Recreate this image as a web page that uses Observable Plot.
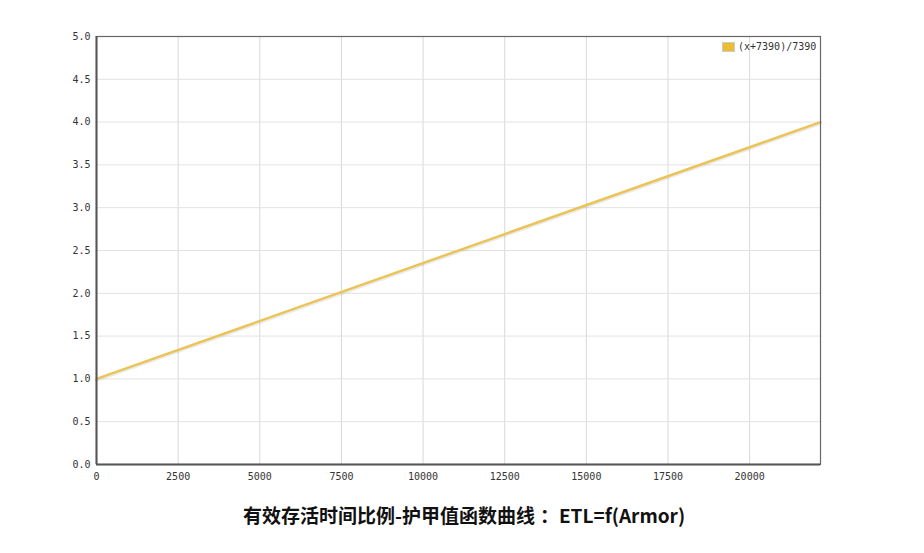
<!DOCTYPE html>
<html>
<head>
<meta charset="utf-8">
<script src="https://cdn.jsdelivr.net/npm/d3@7"></script>
<script src="https://cdn.jsdelivr.net/npm/@observablehq/plot@0.6"></script>
<style>
  html, body { margin: 0; padding: 0; background: #fff; }
  #wrap { position: relative; width: 924px; }
  #legend { position: absolute; top: 41px; left: 722px; font: 10px "DejaVu Sans Mono", monospace; color: #333; display: flex; align-items: center; }
  #legend span.sw { display: inline-block; width: 11px; height: 8px; background: #ebbd2f; border: 1px solid #ccc; margin-right: 3px; }
  #title { text-align: center; font: bold 19px "Noto Sans CJK SC", "Noto Sans", sans-serif; color: #111; margin-top: 11px; width: 928px; }
  #title .colon { padding-left: 5px; }
</style>
</head>
<body>
<div id="wrap">
  <div id="chart"></div>
  <div id="legend"><span class="sw"></span>(x+7390)/7390</div>
  <div id="title">有效存活时间比例-护甲值函数曲线<span class="colon">：</span>ETL=f(Armor)</div>
</div>
<script>
const armor = [0, 22170];
const etl = [1, 4];
const xTicks = [0, 2500, 5000, 7500, 10000, 12500, 15000, 17500, 20000];
const yTicks = [0, 0.5, 1, 1.5, 2, 2.5, 3, 3.5, 4, 4.5, 5];

const data = armor.map((a, i) => ({x: a, y: etl[i]}));

const chart = Plot.plot({
  width: 924,
  height: 490,
  marginTop: 36,
  marginBottom: 26,
  marginLeft: 96,
  marginRight: 104,
  style: {fontFamily: "'DejaVu Sans Mono', monospace", fontSize: "10px", color: "#333", background: "#fff"},
  x: {domain: [0, 22170], ticks: xTicks, tickFormat: d => String(d), tickSize: 0, tickPadding: 8, label: null},
  y: {domain: [0, 5], ticks: yTicks, tickFormat: d => d.toFixed(1), tickSize: 0, tickPadding: 6, label: null},
  marks: [
    Plot.gridX(xTicks, {stroke: "#d8d8d8", strokeOpacity: 1}),
    Plot.gridY(yTicks, {stroke: "#e2e2e2", strokeOpacity: 1}),
    Plot.line(data, {x: "x", y: "y", stroke: "#000", strokeOpacity: 0.08, strokeWidth: 3, dy: 1.5}),
    Plot.line(data, {x: "x", y: "y", stroke: "#ebc458", strokeWidth: 2.5}),
    Plot.frame({stroke: "#666", strokeWidth: 1.2}),
    Plot.ruleX([0], {stroke: "#555", strokeWidth: 2}),
    Plot.ruleY([0], {stroke: "#555", strokeWidth: 2})
  ]
});
document.getElementById("chart").appendChild(chart);
</script>
</body>
</html>
